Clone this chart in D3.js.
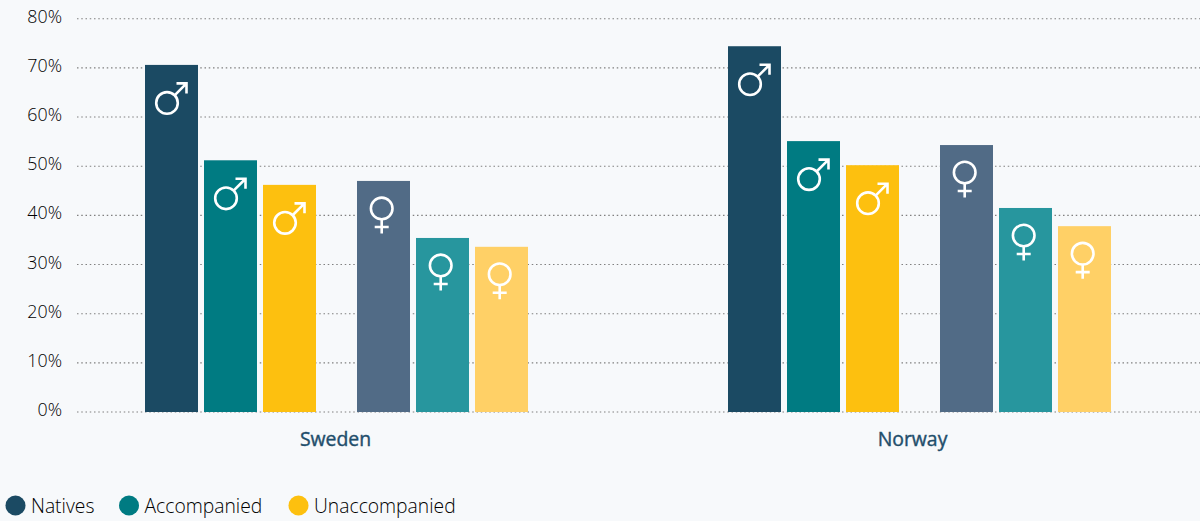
<!DOCTYPE html>
<html><head><meta charset="utf-8">
<script src="https://cdn.jsdelivr.net/npm/d3@7/dist/d3.min.js"></script>
<style>html,body{margin:0;padding:0;background:#f7f9fb}svg{display:block}text{font-family:"Open Sans","Noto Sans",sans-serif}</style>
</head><body><div id="chart"></div>
<script>
const countries = ["Sweden", "Norway"];
const genders = ["male", "female"];
const groups = ["Natives", "Accompanied", "Unaccompanied"];
const ticks = [0, 10, 20, 30, 40, 50, 60, 70, 80];
const swedenMale = [70.6, 51.2, 46.2];
const swedenFemale = [47.0, 35.4, 33.6];
const norwayMale = [74.4, 55.1, 50.2];
const norwayFemale = [54.3, 41.5, 37.8];
const maleColors = ["#1b4a63", "#007b82", "#fdc00f"];
const femaleColors = ["#516b86", "#27969e", "#ffd066"];

const table = [
  ["Sweden", "male", swedenMale, maleColors],
  ["Sweden", "female", swedenFemale, femaleColors],
  ["Norway", "male", norwayMale, maleColors],
  ["Norway", "female", norwayFemale, femaleColors]
].flatMap(([country, gender, vals, cols]) => vals.map((v, i) => ({country, gender, group: groups[i], value: v, color: cols[i]})));

const W = 1200, H = 521;
const svg = d3.select("#chart").append("svg").attr("width", W).attr("height", H);
svg.append("rect").attr("width", W).attr("height", H).attr("fill", "#f7f9fb");

const y = d3.scaleLinear().domain([0, 80]).range([412, 18.7]);
const xCountry = d3.scalePoint().domain(countries).range([336.5, 919.5]);
const xLabel = d3.scalePoint().domain(countries).range([335.5, 912.5]);
const xGender = d3.scalePoint().domain(genders).range([-106, 106]);
const xGroup = d3.scaleBand().domain(groups).range([-85.5, 85.5]).paddingInner(6 / 59);
const barX = d => xCountry(d.country) + xGender(d.gender) + xGroup(d.group);

const yAxis = d3.axisLeft(y).tickValues(ticks).tickFormat(d => d + "%").tickSize(0).tickPadding(0);
const axisG = svg.append("g").attr("transform", "translate(62,0)").call(yAxis);
axisG.select(".domain").remove();
axisG.selectAll("text").attr("font-size", 17.8).attr("font-weight", 300).attr("fill", "#000").attr("dy", "0").attr("y", 3.5);

svg.append("g").selectAll("line").data(ticks).join("line")
  .attr("x1", 77).attr("x2", W)
  .attr("y1", d => y(d)).attr("y2", d => y(d))
  .attr("stroke", "#808080").attr("stroke-width", 1.1).attr("stroke-dasharray", "1.5 2.75");

svg.append("g").selectAll("rect").data(table).join("rect")
  .attr("x", barX).attr("width", xGroup.bandwidth())
  .attr("y", d => y(d.value)).attr("height", d => y(0) - y(d.value))
  .attr("fill", d => d.color);

const icons = svg.append("g").attr("fill", "none").attr("stroke", "#fff").attr("stroke-width", 2.6);
table.forEach(d => {
  const cx = barX(d) + xGroup.bandwidth() / 2, top = y(d.value);
  if (d.gender === "male") {
    const g = icons.append("g").attr("transform", `translate(${cx - 4.5},${top + 38})`);
    g.append("circle").attr("r", 10.8);
    g.append("path").attr("d", "M7.6,-7.6L19.5,-19.5M9.5,-19.5H19.5V-9.5");
  } else {
    const g = icons.append("g").attr("transform", `translate(${cx - 1.8},${top + 27.5})`);
    g.append("circle").attr("r", 10.8);
    g.append("path").attr("d", "M0,10.8V25M-7,18.5H7");
  }
});

svg.append("g").selectAll("text").data(countries).join("text")
  .attr("x", d => xLabel(d)).attr("y", 445.5)
  .attr("text-anchor", "middle").attr("font-size", 19.4).attr("font-weight", 500)
  .attr("fill", "#1f4e6b").attr("stroke", "#1f4e6b").attr("stroke-width", 0.4).text(d => d);

const legendX = d3.scaleOrdinal().domain(groups).range([15.5, 129, 298.5]);
const legend = svg.append("g").selectAll("g").data(groups).join("g")
  .attr("transform", d => `translate(${legendX(d)},505.5)`);
legend.append("circle").attr("r", 10).attr("fill", (d, i) => maleColors[i]);
legend.append("text").attr("x", 15.5).attr("y", 7).attr("font-size", 19.3).attr("font-weight", 300).attr("fill", "#000").text(d => d);
</script></body></html>
